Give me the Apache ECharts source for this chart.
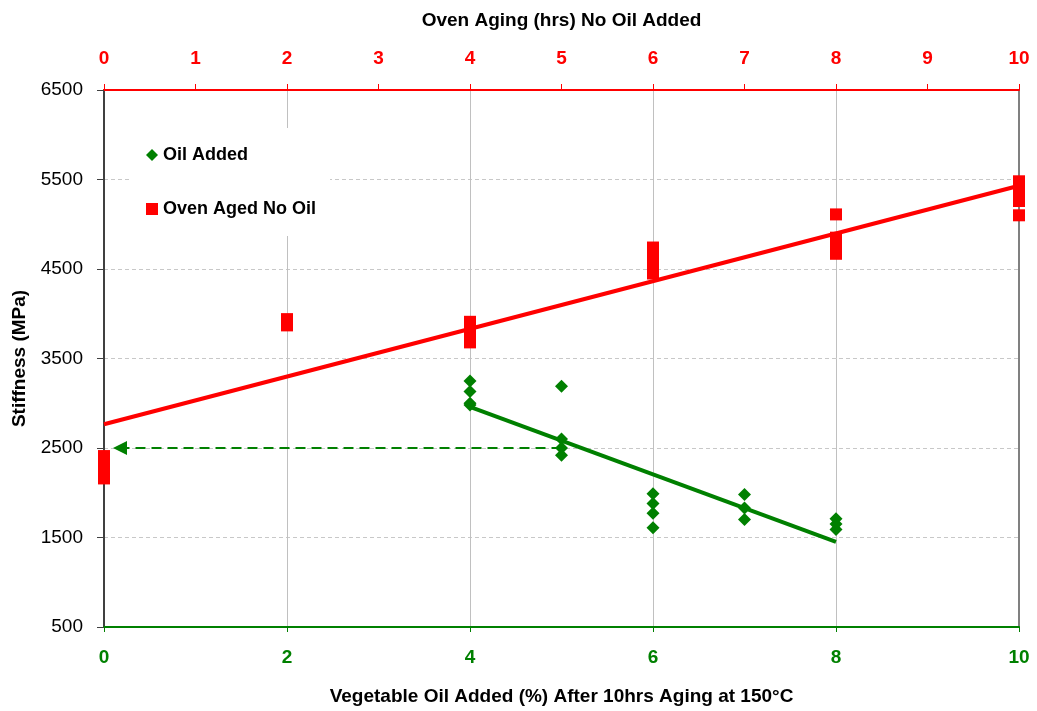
<!DOCTYPE html>
<html>
<head>
<meta charset="utf-8">
<script src="https://cdn.jsdelivr.net/npm/echarts@6/dist/echarts.min.js"></script>
<style>html,body{margin:0;padding:0;background:#fff}#c{width:1037px;height:711px}</style>
</head>
<body>
<div id="c"></div>
<script>
// ---- data ----
const oilX = [4, 4, 4, 4, 5, 5, 5, 5, 6, 6, 6, 6, 7, 7, 7, 8, 8, 8];
const oilY = [3250, 3130, 3000, 2980, 3190, 2600, 2500, 2420, 1990, 1880, 1770, 1610, 1980, 1830, 1700, 1710, 1650, 1590];
const ovenX = [0, 0, 0, 0, 2, 2, 4, 4, 4, 4, 6, 6, 6, 6, 8, 8, 8, 8, 10, 10, 10, 10];
const ovenY = [2410, 2330, 2250, 2160, 3940, 3870, 3910, 3830, 3750, 3680, 4740, 4640, 4540, 4450, 5110, 4850, 4760, 4670, 5480, 5370, 5260, 5100];
const ovenTrendX = [0, 10];
const ovenTrendY = [2765, 5430];
const oilTrendX = [4, 8];
const oilTrendY = [2960, 1450];
const arrowFrom = [5, 2500];
const arrowTo = [0.175, 2500];
const seriesNames = ['Oil Added', 'Oven Aged No Oil'];
const topTitle = 'Oven Aging (hrs) No Oil Added';
const bottomTitle = 'Vegetable Oil Added (%) After 10hrs Aging at 150°C';
const yTitle = 'Stiffness (MPa)';

const zip = (xs, ys) => xs.map((x, i) => [x, ys[i]]);
const FONT = '"Liberation Sans", Arial, sans-serif';
const RED = '#ff0000', GREEN = '#008000';

const chart = echarts.init(document.getElementById('c'), null, {renderer: 'canvas'});
chart.setOption({
  animation: false,
  backgroundColor: '#ffffff',
  textStyle: {fontFamily: FONT},
  grid: {left: 104, right: 18, top: 90, bottom: 81, containLabel: false},
  legend: {
    orient: 'vertical', left: 130, top: 128,
    padding: [18, 14, 18, 16],
    itemGap: 36, itemWidth: 12, itemHeight: 12,
    backgroundColor: '#ffffff',
    textStyle: {fontFamily: FONT, fontSize: 18, fontWeight: 'bold', color: '#000'},
    data: [{name: seriesNames[0], icon: 'diamond'}, {name: seriesNames[1], icon: 'rect'}]
  },
  xAxis: [
    {
      type: 'value', position: 'bottom', min: 0, max: 10, interval: 2,
      name: bottomTitle, nameLocation: 'middle', nameGap: 60,
      nameTextStyle: {fontFamily: FONT, fontSize: 19, fontWeight: 'bold', color: '#000'},
      axisLine: {show: true, onZero: false, lineStyle: {color: GREEN, width: 2}},
      axisTick: {show: true, length: 5, lineStyle: {color: GREEN}},
      axisLabel: {fontFamily: FONT, fontSize: 19, fontWeight: 'bold', color: GREEN, margin: 21},
      splitLine: {show: true, lineStyle: {color: '#c0c0c0', width: 1, type: 'solid'}}
    },
    {
      type: 'value', position: 'top', min: 0, max: 10, interval: 1,
      name: topTitle, nameLocation: 'middle', nameGap: 60,
      nameTextStyle: {fontFamily: FONT, fontSize: 19, fontWeight: 'bold', color: '#000'},
      axisLine: {show: true, onZero: false, lineStyle: {color: RED, width: 2}},
      axisTick: {show: true, length: 6, lineStyle: {color: RED}},
      axisLabel: {fontFamily: FONT, fontSize: 19, fontWeight: 'bold', color: RED, margin: 22},
      splitLine: {show: false}
    }
  ],
  yAxis: [
    {
      type: 'value', position: 'left', min: 500, max: 6500, interval: 1000,
      name: yTitle, nameLocation: 'middle', nameGap: 75, nameRotate: 90,
      nameTextStyle: {fontFamily: FONT, fontSize: 19, fontWeight: 'bold', color: '#000'},
      axisLine: {show: true, onZero: false, lineStyle: {color: '#404040', width: 2}},
      axisTick: {show: true, length: 7, lineStyle: {color: '#404040'}},
      axisLabel: {fontFamily: FONT, fontSize: 19, color: '#000', margin: 21, formatter: v => String(v)},
      splitLine: {show: true, lineStyle: {color: '#c8c8c8', width: 1, type: [4, 3]}}
    },
    {
      type: 'value', position: 'right', min: 500, max: 6500, interval: 1000,
      axisLine: {show: true, onZero: false, lineStyle: {color: '#808080', width: 2}},
      axisTick: {show: false}, axisLabel: {show: false}, splitLine: {show: false}
    }
  ],
  series: [
    {
      name: seriesNames[0], type: 'scatter', xAxisIndex: 0, yAxisIndex: 0,
      symbol: 'diamond', symbolSize: 13, itemStyle: {color: GREEN, opacity: 1},
      data: zip(oilX, oilY), z: 3
    },
    {
      name: seriesNames[1], type: 'scatter', xAxisIndex: 1, yAxisIndex: 0,
      symbol: 'rect', symbolSize: [12, 12], itemStyle: {color: RED, opacity: 1},
      data: zip(ovenX, ovenY), z: 3
    },
    {
      name: 'ovenTrend', type: 'line', xAxisIndex: 1, yAxisIndex: 0,
      showSymbol: false, symbol: 'none', lineStyle: {color: RED, width: 4},
      data: zip(ovenTrendX, ovenTrendY), z: 4, silent: true
    },
    {
      name: 'oilTrend', type: 'line', xAxisIndex: 0, yAxisIndex: 0,
      showSymbol: false, symbol: 'none', lineStyle: {color: GREEN, width: 4},
      data: zip(oilTrendX, oilTrendY), z: 4, silent: true,
      markLine: {
        silent: true, animation: false,
        symbol: ['none', 'triangle'], symbolSize: 14,
        itemStyle: {color: GREEN},
        label: {show: false},
        emphasis: {disabled: true},
        lineStyle: {color: GREEN, width: 2, type: [10, 6]},
        data: [[{coord: arrowFrom}, {coord: arrowTo}]]
      }
    }
  ]
});
</script>
</body>
</html>
